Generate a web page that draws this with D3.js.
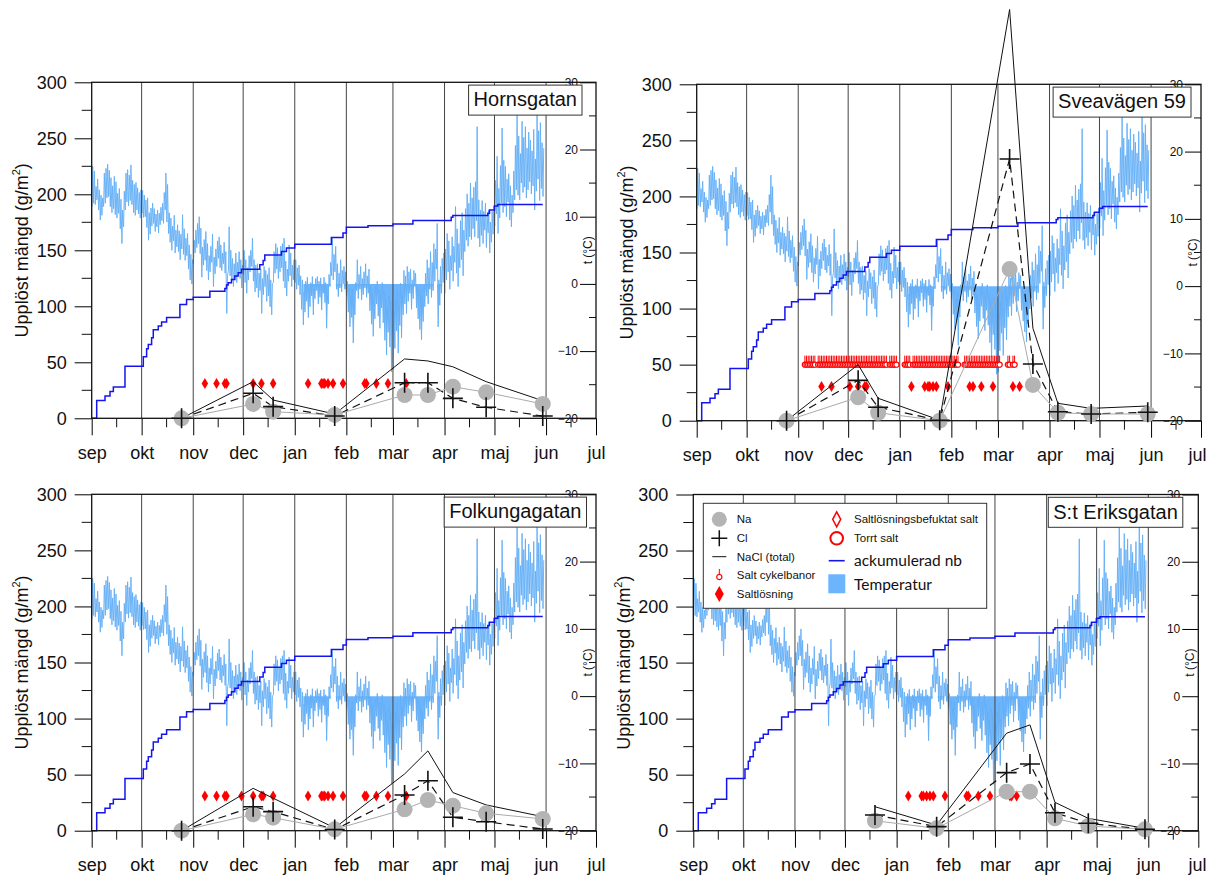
<!DOCTYPE html>
<html>
<head>
<meta charset="utf-8">
<script src="https://cdn.jsdelivr.net/npm/d3@7"></script>
<style>
  body { margin: 0; background: #fff; }
  svg text { font-family: "Liberation Sans", Arial, sans-serif; fill: #111; }
</style>
</head>
<body>
<div class="chart"></div>
<script>
// provtagningsdatum (mm-dd), säsongen sep -> jul
const sampleDates = ['10-25', '12-07', '12-19', '01-25', '03-08', '03-22', '04-06', '04-26', '05-30']
const eriksDates = ['12-19', '01-25', '03-08', '03-22', '04-06', '04-26', '05-30']

// upplöst mängd (g/m2)
const hornNa = [0, 12.8, 5.9, 3, 20.8, 20.8, 28.2, 23.2, 12.8]
const hornCl = [0, 22.3, 10.4, 2, 31.8, 31.8, 17.8, 9.8, 2]
const hornNaCl = [0, 32.7, 16.3, 3.8, 53, 51.2, 46, 32.7, 15.7]

const sveaNa = [0, 20.9, 7.1, 0, 135.2, 31.9, 7.1, 6, 6]
const sveaCl = [0, 36, 12, 0.3, 233.4, 50.6, 8, 6, 7.5]
const sveaNaCl = [0, 50, 20, 0.5, 366.7, 82.5, 15.5, 11, 13.1]

const folkNa = [0, 14.6, 11.6, 1.2, 19.1, 27.4, 22.3, 15.5, 10.5]
const folkCl = [0, 21.4, 17, 1, 31.9, 44.6, 12, 8, 1.5]
const folkNaCl = [0, 37.8, 29, 2.5, 50.6, 71.2, 34, 23, 12.5]

const eriksNa = [8.9, 2.1, 34.8, 34.8, 11, 4.2, 1.2]
const eriksCl = [14, 3.6, 51.8, 59.5, 16, 6.6, 1.2]
const eriksNaCl = [21.4, 5, 87, 94.4, 25.3, 11, 2.1]

// saltlösning (diamanter), datum och nivå
const hornLosning = ['11-08', '11-15', '11-20', '11-21', '12-07', '12-12', '12-19', '01-09', '01-17', '01-18', '01-19', '01-21', '01-24', '01-30', '02-12', '02-13', '02-19', '02-26', '03-09']
const folkLosning = ['11-08', '11-15', '11-20', '11-21', '11-30', '12-07', '12-12', '12-13', '12-19', '01-09', '01-17', '01-18', '01-19', '01-21', '01-24', '01-30', '02-12', '02-13', '02-19', '02-26', '03-09']
const sveaLosning = ['11-15', '11-21', '12-02', '12-07', '12-11', '12-12', '01-08', '01-16', '01-18', '01-19', '01-21', '01-23', '01-30', '02-12', '02-14', '02-19', '02-26', '03-10', '03-14']
const eriksLosning = ['01-08', '01-16', '01-17', '01-19', '01-21', '01-23', '01-30', '02-12', '02-13', '02-19', '02-26', '03-10', '03-11', '03-14']
const losningLevel = [31, 30.4, 31, 31]

// salt cykelbanor, Sveavägen (dag i månaden)
const cykelNov = [5, 6, 7, 8, 9, 10, 11, 13, 14, 15, 16, 17, 18, 19, 20, 21, 22, 23, 24, 25, 26, 27, 28, 29, 30]
const cykelDec = [1, 2, 3, 4, 5, 6, 7, 8, 9, 10, 11, 12, 13, 14, 15, 16, 17, 18, 19, 20, 21, 22, 23, 24, 26, 27, 28, 29, 30]
const cykelJan = [4, 5, 6, 7, 9, 10, 11, 12, 13, 14, 15, 16, 17, 18, 19, 20, 21, 22, 23, 24, 25, 26, 27, 28, 29, 30, 31]
const cykelFeb = [1, 2, 3, 4, 5, 9, 10, 11, 12, 13, 14, 15, 16, 17, 18, 19, 20, 21, 22, 23, 24, 25, 26, 27, 28]
const cykelMar = [1, 2, 7, 8, 10, 11]
const cykelLevel = 50

// ackumulerad nederbörd (mm), trappsteg
const precip = [
  ['09-01', 0], ['09-04', 16], ['09-09', 20], ['09-12', 24], ['09-14', 28], ['09-21', 46.5],
  ['10-02', 55], ['10-04', 62], ['10-05', 66], ['10-07', 72], ['10-08', 79], ['10-11', 82.5],
  ['10-13', 86], ['10-16', 90], ['10-24', 101.5], ['10-28', 106], ['11-01', 108], ['11-11', 113.5],
  ['11-20', 116], ['11-21', 119], ['11-22', 121], ['11-24', 124], ['11-26', 127], ['11-28', 130],
  ['11-30', 133], ['12-11', 137], ['12-13', 141], ['12-14', 145.8], ['12-24', 149], ['12-27', 152],
  ['01-01', 155.5], ['01-23', 161.5], ['01-30', 165.5], ['02-01', 170.5], ['02-14', 172],
  ['03-01', 173.5], ['03-13', 176.5], ['04-05', 179.5], ['04-06', 181], ['04-27', 183],
  ['04-28', 186], ['05-01', 189.5], ['05-03', 191], ['05-30', 191]
]

// temperatur (°C), per dag: natt, dag
const tempSep = [11.5, 17.5, 12.0, 16.8, 11.8, 14.5, 12.5, 15.6, 11.0, 14.0, 9.5, 13.2, 10.2, 12.8, 11.5, 16.5, 12.0, 17.2, 12.8, 17.8,
  13.0, 16.9, 11.5, 15.8, 10.6, 14.6, 11.2, 16.0, 10.3, 15.2, 9.8, 13.5, 10.5, 14.2, 8.2, 12.6, 6.0, 11.0, 8.5, 13.8,
  11.0, 16.5, 12.2, 17.0, 11.6, 16.2, 12.4, 17.7, 11.8, 15.4, 10.6, 14.8, 10.2, 15.1, 11.0, 14.3, 10.4, 13.6, 9.8, 14.0]
const tempOkt = [10.5, 13.9, 9.9, 13.2, 10.0, 12.5, 8.4, 12.8, 6.5, 10.6, 7.4, 11.3, 8.6, 12.0, 9.0, 11.2, 7.8, 10.4, 8.5, 11.0,
  7.6, 10.5, 8.8, 11.4, 9.4, 12.0, 9.0, 13.6, 11.0, 16.5, 9.2, 14.8, 7.5, 10.6, 6.2, 9.8, 5.0, 8.6, 6.4, 10.2,
  4.6, 8.0, 5.5, 8.8, 4.8, 7.9, 3.6, 7.4, 5.2, 10.3, 4.4, 8.2, 3.5, 6.8, 4.2, 7.5, 2.2, 5.8, 0.6, 4.4, 0.0, 3.6]
const tempNov = [3.0, 6.5, 4.6, 8.0, 5.4, 9.0, 6.0, 10.0, 4.5, 8.3, 1.0, 5.5, 2.8, 6.6, 3.5, 7.8, 2.0, 6.0, 0.6, 4.2,
  1.8, 5.6, 3.2, 7.4, -0.4, 4.0, 1.5, 5.2, 2.6, 6.4, 3.8, 7.0, 2.4, 5.8, 2.0, 4.6, 3.0, 6.2, 1.6, 4.8,
  -4.4, 1.2, 2.0, 8.5, 1.2, 5.0, 0.4, 3.8, -0.4, 3.0, 1.0, 4.6, 0.2, 3.2, 1.6, 4.8, 0.8, 3.6, -0.6, 2.8]
const tempDec = [1.4, 5.0, 0.2, 3.6, -1.4, 2.4, 0.6, 4.2, 1.8, 5.0, 2.6, 6.8, 0.4, 3.6, -1.2, 2.8, -0.6, 3.0, -2.0, 1.6,
  -1.0, 2.2, -4.4, 0.8, -1.6, 2.6, -0.4, 2.0, -2.6, 1.4, -1.8, 2.4, -3.4, 0.6, -4.6, 0.0, 0.2, 4.8, 1.6, 6.0,
  2.2, 5.4, 0.8, 4.2, 1.8, 5.6, 2.4, 6.0, 0.4, 6.8, -0.6, 3.4, -1.8, 2.2, 0.4, 5.8, 1.2, 4.6, -0.4, 2.8, 0.6, 3.6]
const tempJan = [0.2, 3.6, -0.8, 2.4, -0.2, 2.8, -1.6, 1.2, -3.8, 0.6, -6.1, -1.2, -4.2, 0.4, -2.6, 1.0, -5.0, -0.8, -3.4, 0.2,
  -1.8, 1.1, -4.6, -0.6, -2.2, 0.8, -1.0, 1.1, -3.0, 0.4, -2.0, 0.9, -3.9, -0.4, -1.4, 1.0, -2.8, 0.2, -6.6, -1.8,
  -3.0, 1.4, -0.4, 3.2, 1.2, 6.8, 0.6, 4.4, 1.8, 5.6, -0.8, 3.0, -1.9, 1.6, -0.6, 3.6, -1.2, 2.0, 0.0, 2.6, -0.8, 1.8]
const tempFeb = [-1.8, 0.4, -4.2, -0.6, -6.4, -1.8, -5.0, -0.8, -8.8, -3.2, -4.6, 0.2, -1.0, 3.6, -2.2, 1.4, -0.8, 2.6, -2.4, 0.8,
  -1.6, 1.8, -0.6, 3.0, -2.0, 1.2, -1.4, 2.2, -4.0, -0.2, -6.0, -1.4, -7.8, -2.6, -5.2, -0.4, -3.0, 0.4, -4.8, -0.9,
  -6.6, -1.6, -3.6, 0.2, -5.8, -1.2, -8.4, -2.2, -10.6, -3.6, -7.2, -1.8, -9.4, -2.6, -13.1, -4.0]
const tempMar = [-12.8, -4.2, -9.6, -2.4, -7.0, -1.0, -10.3, -3.4, -6.2, 0.1, -8.0, -1.6, -4.6, 2.0, -3.0, 1.2, -4.4, 2.6, -2.6, 1.8,
  -1.4, 2.2, -3.8, 0.6, -2.2, 2.0, -0.4, 1.6, -3.6, -0.4, -5.2, -0.8, -6.8, -1.6, -8.3, -2.2, -5.6, -0.4, -3.4, 1.6,
  -1.8, 3.6, -3.0, 2.4, -0.8, 4.8, -2.0, 3.2, -1.0, 6.0, 0.4, 5.2, 2.2, 9.0, -6.4, 0.6, -3.2, 2.6, -1.4, 3.8, 0.2, 4.6]
const tempApr = [-1.4, 5.2, 0.6, 7.5, 1.8, 6.4, -0.8, 4.2, 2.0, 7.0, 0.4, 5.6, 3.2, 11.5, 1.6, 8.2, -0.4, 6.0, 2.4, 9.4,
  3.6, 10.6, 1.2, 8.0, 4.8, 11.2, 6.5, 13.4, 5.6, 12.0, 7.0, 15.0, 6.6, 12.8, 8.2, 14.4, 7.0, 15.2, 9.4, 23.4,
  6.8, 12.5, 5.5, 11.0, 7.2, 12.4, 6.0, 10.8, 8.0, 12.0, 5.4, 10.2, 7.6, 11.0, 4.6, 9.2, 6.2, 10.8, 7.4, 11.6]
const tempMaj = [8.6, 15.4, 10.4, 19.0, 7.5, 14.2, 9.8, 17.6, 12.0, 23.2, 10.6, 18.4, 11.5, 17.5, 10.0, 15.6, 12.2, 16.4, 9.5, 14.6,
  8.5, 13.2, 10.6, 16.8, 12.5, 20.6, 14.0, 25.1, 13.2, 22.0, 12.5, 19.4, 15.0, 24.2, 13.6, 21.8, 14.4, 23.4, 12.8, 20.2,
  14.0, 22.6, 15.2, 21.4, 13.4, 19.8, 14.6, 23.0, 11.0, 18.6, 13.8, 25.4, 15.6, 22.8, 12.4, 24.0, 14.2, 21.0, 13.0, 20.2]

const monthLabels = ['sep', 'okt', 'nov', 'dec', 'jan', 'feb', 'mar', 'apr', 'maj', 'jun', 'jul']

function md (s) {
  let [m, d] = s.split('-').map(Number)
  return new Date(m >= 8 ? 2005 : 2006, m - 1, d)
}

// temperaturserie
let tempSeries = []
;[['09', tempSep], ['10', tempOkt], ['11', tempNov], ['12', tempDec], ['01', tempJan],
  ['02', tempFeb], ['03', tempMar], ['04', tempApr], ['05', tempMaj]].forEach(([m, arr]) => {
  for (let i = 0; i < arr.length; i += 2) {
    let t0 = md(m + '-' + (i / 2 + 1))
    tempSeries.push({ t: d3.timeHour.offset(t0, 4), v: arr[i] })
    tempSeries.push({ t: d3.timeHour.offset(t0, 14), v: arr[i + 1] })
  }
})
let tempFill = tempSeries.filter(d => d.t >= md('01-06') && d.t <= md('04-01'))

let cykelDates = []
;[['11', cykelNov], ['12', cykelDec], ['01', cykelJan], ['02', cykelFeb], ['03', cykelMar]].forEach(([m, arr]) => {
  arr.forEach(d => cykelDates.push(m + '-' + d))
})

let sites = [
  { name: 'Hornsgatan', dates: sampleDates, na: hornNa, cl: hornCl, nacl: hornNaCl, losning: hornLosning, level: losningLevel[0] },
  { name: 'Sveavägen 59', dates: sampleDates, na: sveaNa, cl: sveaCl, nacl: sveaNaCl, losning: sveaLosning, level: losningLevel[1], cykel: cykelDates },
  { name: 'Folkungagatan', dates: sampleDates, na: folkNa, cl: folkCl, nacl: folkNaCl, losning: folkLosning, level: losningLevel[2] },
  { name: 'S:t Eriksgatan', dates: eriksDates, na: eriksNa, cl: eriksCl, nacl: eriksNaCl, losning: eriksLosning, level: losningLevel[3], legend: true }
]

// placering av diagrammen
let layout = [
  { x: 91.7, y: 82.3, w: 504.3, h: 336, titleRight: 14 },
  { x: 696.7, y: 84.3, w: 504.3, h: 336.4, titleRight: 10 },
  { x: 91.7, y: 494.3, w: 504.3, h: 336.4, titleRight: 9.5 },
  { x: 693.3, y: 494.5, w: 505, h: 336.2, titleRight: 15.5 }
]

let svg = d3.select('.chart').append('svg')
  .attr('width', 1209)
  .attr('height', 876)

sites.forEach((site, i) => drawPanel(site, layout[i]))

function diamondPath (w, h) {
  return `M0,${-h / 2}L${w / 2},0L0,${h / 2}L${-w / 2},0Z`
}

function drawPanel (site, p) {
  let g = svg.append('g').attr('transform', `translate(${p.x},${p.y})`)
  let x = d3.scaleTime().domain([md('09-01'), md('07-01')]).range([0, p.w])
  let y = d3.scaleLinear().domain([0, 300]).range([p.h, 0])
  let yT = d3.scaleLinear().domain([-20, 30]).range([p.h, 0])
  let months = d3.timeMonth.range(md('09-01'), d3.timeDay.offset(md('07-01'), 1))

  // temperatur
  g.append('path')
    .datum(tempFill)
    .attr('fill', '#6cb5fc')
    .attr('d', d3.area().x(d => x(d.t)).y0(yT(0)).y1(d => yT(Math.min(0, d.v))))
  g.append('path')
    .datum(tempSeries)
    .attr('fill', 'none')
    .attr('stroke', '#62aef6')
    .attr('stroke-width', 0.9)
    .attr('d', d3.line().x(d => x(d.t)).y(d => yT(d.v)))

  // stödlinjer för månader
  g.append('g').selectAll('line')
    .data(months.slice(1, -1))
    .enter().append('line')
    .attr('x1', d => x(d)).attr('x2', d => x(d))
    .attr('y1', 0).attr('y2', p.h)
    .attr('stroke', '#444').attr('stroke-width', 1)

  // ackumulerad nederbörd
  g.append('path')
    .datum(precip)
    .attr('fill', 'none')
    .attr('stroke', '#1414f0')
    .attr('stroke-width', 1.5)
    .attr('d', d3.line().curve(d3.curveStepAfter).x(d => x(md(d[0]))).y(d => y(d[1])))

  // axlar
  let xAxis = g.append('g')
    .attr('transform', `translate(0,${p.h})`)
    .call(d3.axisBottom(x).tickValues(months).tickFormat((d, i) => monthLabels[i])
      .tickSize(17).tickPadding(11).tickSizeOuter(0))
  xAxis.select('.domain').remove()
  xAxis.selectAll('text').attr('font-size', '18px').attr('fill', '#111')
    .each(function (d) {
      // håll texten inom bilden
      let bb = this.getBBox()
      let right = p.x + x(d) + bb.x + bb.width
      if (right > 1206) d3.select(this).attr('x', 1206 - right)
    })
  g.append('g').selectAll('line')
    .data(months.slice(0, -1).map(d => d3.timeDay.offset(d, 15)))
    .enter().append('line')
    .attr('x1', d => x(d)).attr('x2', d => x(d))
    .attr('y1', p.h).attr('y2', p.h + 9)
    .attr('stroke', '#111')

  let yAxis = g.append('g')
    .call(d3.axisLeft(y).tickValues(d3.range(0, 301, 50)).tickSize(17).tickPadding(8).tickSizeOuter(0))
  yAxis.select('.domain').remove()
  yAxis.selectAll('text').attr('font-size', '18px').attr('fill', '#111')
  g.append('g').selectAll('line')
    .data(d3.range(25, 300, 50))
    .enter().append('line')
    .attr('x1', -10).attr('x2', 0)
    .attr('y1', d => y(d)).attr('y2', d => y(d))
    .attr('stroke', '#111')

  let tAxis = g.append('g')
    .attr('transform', `translate(${p.w},0)`)
    .call(d3.axisLeft(yT).tickValues(d3.range(-20, 31, 10)).tickSize(16).tickPadding(2).tickSizeOuter(0))
  tAxis.select('.domain').remove()
  tAxis.selectAll('text').attr('font-size', '12px').attr('fill', '#111')
  g.append('g').selectAll('line')
    .data(d3.range(-15, 30, 10))
    .enter().append('line')
    .attr('x1', p.w - 7).attr('x2', p.w)
    .attr('y1', d => yT(d)).attr('y2', d => yT(d))
    .attr('stroke', '#111')

  g.append('rect')
    .attr('width', p.w).attr('height', p.h)
    .attr('fill', 'none').attr('stroke', '#111').attr('stroke-width', 1.3)

  g.append('text')
    .attr('transform', `translate(-70,${p.h / 2}) rotate(-90)`)
    .attr('text-anchor', 'middle')
    .attr('dy', '0.35em')
    .attr('font-size', '18px')
    .text('Upplöst mängd (g/m')
    .append('tspan').attr('font-size', '11px').attr('dy', '-0.7em').text('2')
    .select(function () { return this.parentNode })
    .append('tspan').attr('dy', '0.45em').text(')')

  g.append('text')
    .attr('transform', `translate(${p.w - 4},${yT(5)}) rotate(-90)`)
    .attr('text-anchor', 'middle')
    .attr('font-size', '12px')
    .text('t (°C)')

  // saltlösning
  g.append('g').selectAll('path')
    .data(site.losning)
    .enter().append('path')
    .attr('transform', d => `translate(${x(md(d))},${y(site.level)})`)
    .attr('d', diamondPath(6.5, 11))
    .attr('fill', '#ff0000')

  // salt cykelbanor
  if (site.cykel) {
    let cg = g.append('g').selectAll('g')
      .data(site.cykel)
      .enter().append('g')
      .attr('transform', d => `translate(${x(md(d))},${y(cykelLevel)})`)
    cg.append('line').attr('y1', -2.5).attr('y2', -9).attr('stroke', '#ff0000').attr('stroke-width', 1)
    cg.append('circle').attr('r', 2.6).attr('fill', '#fff').attr('stroke', '#ff0000').attr('stroke-width', 1.2)
  }

  let pts = site.dates.map((d, i) => ({ t: md(d), na: site.na[i], cl: site.cl[i], nacl: site.nacl[i] }))

  g.append('path').datum(pts)
    .attr('fill', 'none').attr('stroke', '#111').attr('stroke-width', 1)
    .attr('d', d3.line().x(d => x(d.t)).y(d => y(d.nacl)))
  g.append('path').datum(pts)
    .attr('fill', 'none').attr('stroke', '#111').attr('stroke-width', 1.2)
    .attr('stroke-dasharray', '8,5')
    .attr('d', d3.line().x(d => x(d.t)).y(d => y(d.cl)))
  g.append('path').datum(pts)
    .attr('fill', 'none').attr('stroke', '#aaa').attr('stroke-width', 1)
    .attr('d', d3.line().x(d => x(d.t)).y(d => y(d.na)))

  g.append('g').selectAll('circle')
    .data(pts)
    .enter().append('circle')
    .attr('cx', d => x(d.t)).attr('cy', d => y(d.na))
    .attr('r', 8).attr('fill', '#b4b4b4')

  g.append('g').selectAll('path')
    .data(pts)
    .enter().append('path')
    .attr('transform', d => `translate(${x(d.t)},${y(d.cl)})`)
    .attr('d', 'M-10,0H10M0,-10V10')
    .attr('stroke', '#111').attr('stroke-width', 1.6)

  // rubrik
  let title = g.append('g')
  let tt = title.append('text')
    .attr('x', p.w - p.titleRight - 5)
    .attr('y', 24)
    .attr('text-anchor', 'end')
    .attr('font-size', '20px')
    .text(site.name)
  let bb = tt.node().getBBox()
  title.insert('rect', 'text')
    .attr('x', bb.x - 5).attr('y', 2.8)
    .attr('width', bb.width + 10).attr('height', 30)
    .attr('fill', '#fff').attr('stroke', '#333').attr('stroke-width', 1)

  if (site.legend) drawLegend(g)
}

function drawLegend (g) {
  let lg = g.append('g').attr('transform', 'translate(10,8.8)')
  lg.append('rect')
    .attr('width', 283.4).attr('height', 105)
    .attr('fill', '#fff').attr('stroke', '#333').attr('stroke-width', 1)

  let lx = 16, tx = 33.5, rx = 133.4, rtx = 150.7
  let rows = [16, 35, 53.4, 71.7, 90.7]

  lg.append('circle').attr('cx', lx).attr('cy', rows[0]).attr('r', 7.5).attr('fill', '#b4b4b4')
  lg.append('path').attr('transform', `translate(${lx},${rows[1]})`)
    .attr('d', 'M-8,0H8M0,-8V8').attr('stroke', '#111').attr('stroke-width', 1.5)
  lg.append('line').attr('x1', lx - 7).attr('x2', lx + 7).attr('y1', rows[2]).attr('y2', rows[2])
    .attr('stroke', '#111')
  let cy = lg.append('g').attr('transform', `translate(${lx},${rows[3] + 2})`)
  cy.append('line').attr('y1', -2.5).attr('y2', -8).attr('stroke', '#ff0000')
  cy.append('circle').attr('r', 2.6).attr('fill', '#fff').attr('stroke', '#ff0000').attr('stroke-width', 1.2)
  lg.append('path').attr('transform', `translate(${lx},${rows[4]})`)
    .attr('d', diamondPath(9, 16)).attr('fill', '#ff0000')

  ;['Na', 'Cl', 'NaCl (total)', 'Salt cykelbanor', 'Saltlösning'].forEach((t, i) => {
    lg.append('text').attr('x', tx).attr('y', rows[i]).attr('dy', '0.35em')
      .attr('font-size', '11.5px').text(t)
  })

  lg.append('path').attr('transform', `translate(${rx},${rows[0]})`)
    .attr('d', diamondPath(8, 15)).attr('fill', '#fff').attr('stroke', '#ff0000').attr('stroke-width', 1.5)
  lg.append('circle').attr('cx', rx).attr('cy', rows[1]).attr('r', 6.3)
    .attr('fill', '#fff').attr('stroke', '#ff0000').attr('stroke-width', 2)
  lg.append('line').attr('x1', rx - 8).attr('x2', rx + 8).attr('y1', 57.4).attr('y2', 57.4)
    .attr('stroke', '#1414f0').attr('stroke-width', 1.6)
  lg.append('rect').attr('x', rx - 8.4).attr('y', 71).attr('width', 17).attr('height', 19)
    .attr('fill', '#6cb5fc')

  lg.append('text').attr('x', rtx).attr('y', rows[0]).attr('dy', '0.35em')
    .attr('font-size', '11.5px').text('Saltlösningsbefuktat salt')
  lg.append('text').attr('x', rtx).attr('y', rows[1]).attr('dy', '0.35em')
    .attr('font-size', '11.5px').text('Torrt salt')
  lg.append('text').attr('x', rtx).attr('y', 57.4).attr('dy', '0.35em')
    .attr('font-size', '15.5px').style('font-family', 'Lato, "Open Sans", sans-serif').text('ackumulerad nb')
  lg.append('text').attr('x', rtx).attr('y', 81.5).attr('dy', '0.35em')
    .attr('font-size', '15.5px').style('font-family', 'Lato, "Open Sans", sans-serif').text('Temperatur')
}
</script>
</body>
</html>
